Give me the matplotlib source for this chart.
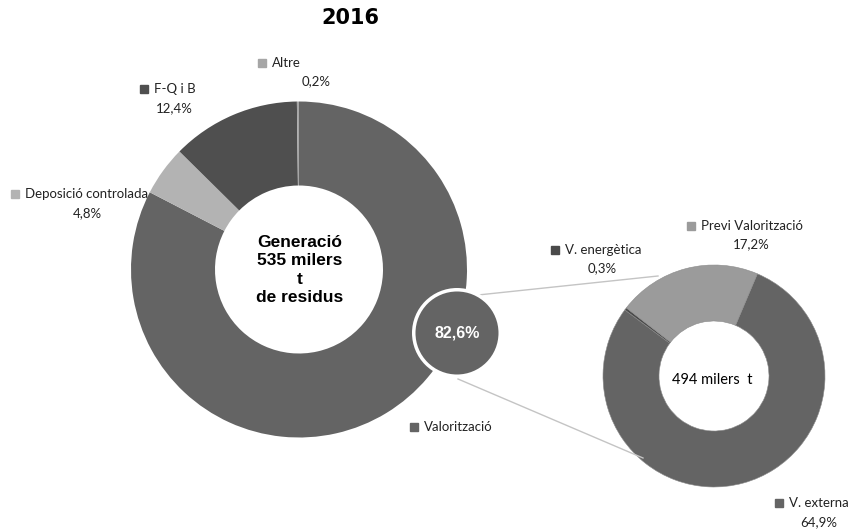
import matplotlib
matplotlib.use("Agg")
import matplotlib.pyplot as plt
from matplotlib.patches import Circle

# ---------------- data ----------------
title = "2016"
main_labels = ["Valorització", "Deposició controlada", "F-Q i B", "Altre"]
main_values = [82.6, 4.8, 12.4, 0.2]
main_total = 535  # milers t

sub_labels = ["V. externa", "V. energètica", "Previ Valorització"]
sub_values = [64.9, 0.3, 17.2]
sub_total = 494  # milers t

# ---------------- style ----------------
main_colors = ["#646464", "#b3b3b3", "#4f4f4f", "#a6a6a6"]
sub_colors = ["#646464", "#4a4a4a", "#9b9b9b"]
W, H = 851, 531
LBL_FONT = ["Lato", "DejaVu Sans"]


def Y(y):
    return H - y


def pct(v):
    return f"{v:.1f}".replace(".", ",") + "%"


fig = plt.figure(figsize=(W / 100, H / 100), dpi=100)
ax = fig.add_axes([0, 0, 1, 1])

# main donut
ax.pie(main_values, colors=main_colors, startangle=90, counterclock=False,
       center=(299, Y(269.5)), radius=168, frame=True,
       wedgeprops=dict(width=84, linewidth=0))

# secondary donut (first slice begins 23 deg clockwise from top)
ax.pie(sub_values, colors=sub_colors, startangle=67, counterclock=False,
       center=(714, Y(376)), radius=111, frame=True,
       wedgeprops=dict(width=56, linewidth=0.4, edgecolor="#8a8a8a"))

ax.set_xlim(0, W)
ax.set_ylim(0, H)
ax.set_aspect("equal")
ax.axis("off")

# connector lines
ax.plot([478, 658], [Y(295), Y(276)], color="#c4c4c4", lw=1.0, zorder=1)
ax.plot([458, 643], [Y(379), Y(458)], color="#c4c4c4", lw=1.0, zorder=1)

# bubble with Valorització share
ax.add_patch(Circle((457, Y(333)), 45, facecolor="white", edgecolor="none", zorder=3))
ax.add_patch(Circle((457, Y(333)), 41.5, facecolor=main_colors[0], edgecolor="none", zorder=4))
ax.text(457, Y(333), pct(main_values[0]), color="white", fontsize=11.5, fontweight="bold",
        family="Liberation Sans", ha="center", va="center", zorder=5)

# centre texts
ax.text(300, Y(270), f"Generació\n{main_total} milers\nt\nde residus", ha="center", va="center",
        fontsize=12.5, fontweight="bold", family="Liberation Sans", linespacing=1.3, zorder=5)
ax.text(712, Y(380), f"{sub_total} milers  t", ha="center", va="center",
        fontsize=10.5, family=LBL_FONT, zorder=5)

# title
ax.text(350, Y(18), title, ha="center", va="center", fontsize=15, fontweight="bold",
        family="DejaVu Sans")

# labels: (square x, y, percent centre x, percent y)
main_pos = {
    "Valorització": (414, 427, None, None),
    "Deposició controlada": (15, 194, 87, 213),
    "F-Q i B": (144, 89, 174, 108),
    "Altre": (262, 63, 316, 81),
}
sub_pos = {
    "V. externa": (779, 503, 819, 522),
    "V. energètica": (555, 250, 602, 268),
    "Previ Valorització": (691, 226, 751, 244),
}


def draw_label(name, value, color, pos):
    sx, sy, px, py = pos
    ax.plot([sx], [Y(sy)], marker="s", markersize=5.5, color=color, linestyle="none")
    ax.text(sx + 10, Y(sy), name, ha="left", va="center", fontsize=9.5, family=LBL_FONT,
            color="#222222")
    if px is not None:
        ax.text(px, Y(py), pct(value), ha="center", va="center", fontsize=9.5,
                family=LBL_FONT, color="#222222")


for n, v, c in zip(main_labels, main_values, main_colors):
    draw_label(n, v, c, main_pos[n])
for n, v, c in zip(sub_labels, sub_values, sub_colors):
    draw_label(n, v, c, sub_pos[n])

fig.savefig("out.png", dpi=100)
